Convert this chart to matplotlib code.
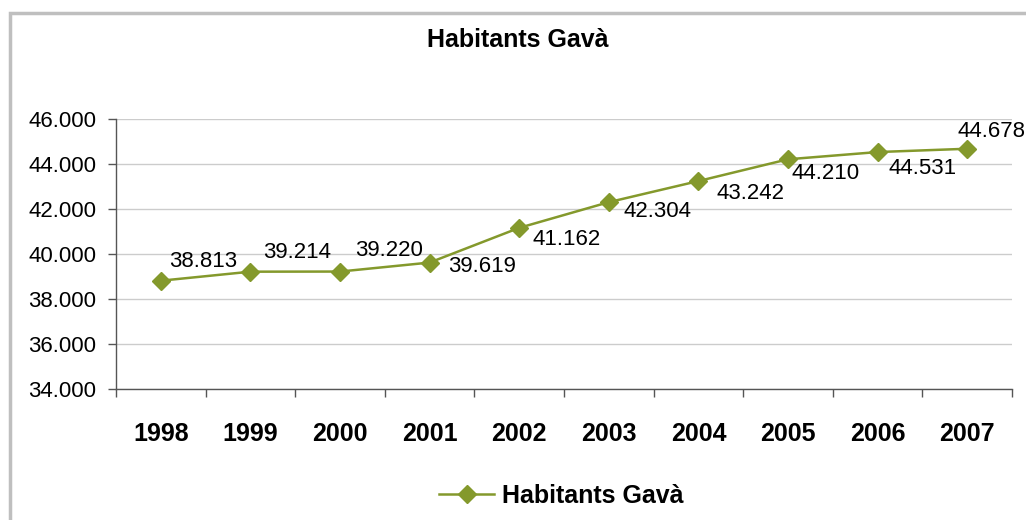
import matplotlib.pyplot as plt
import matplotlib.patches as patches

years = ['1998', '1999', '2000', '2001', '2002', '2003', '2004', '2005', '2006', '2007']
habitants = [38813, 39214, 39220, 39619, 41162, 42304, 43242, 44210, 44531, 44678]
labels = ['38.813', '39.214', '39.220', '39.619', '41.162', '42.304', '43.242', '44.210', '44.531', '44.678']
y_ticks = [34000, 36000, 38000, 40000, 42000, 44000, 46000]
y_ticklabels = ['34.000', '36.000', '38.000', '40.000', '42.000', '44.000', '46.000']
# where each data label sits relative to its point (pixels)
label_offsets = [(42, 19), (47, 19), (49, 21), (52, -4), (47, -12),
                 (49, -9), (52, -12), (38, -14), (45, -16), (24, 17)]

plt.rcParams['font.family'] = ['Liberation Sans', 'DejaVu Sans']

fig = plt.figure(figsize=(10.26, 5.2), dpi=100)
ax = fig.add_axes([116/1026, 1-389/520, (1012-116)/1026, (389-119)/520])

color = '#84992c'
x = list(range(len(years)))
line, = ax.plot(x, habitants, color=color, linewidth=1.8, marker='D', markersize=9,
                label='Habitants Gavà')

for xi, yi, lab, off in zip(x, habitants, labels, label_offsets):
    ax.annotate(lab, (xi, yi), xytext=off, textcoords='offset pixels',
                ha='center', va='center', fontsize=16, color='black')

ax.set_ylim(34000, 46000)
ax.set_yticks(y_ticks)
ax.set_yticklabels(y_ticklabels, fontsize=16)
ax.yaxis.grid(True, color='#cccccc', linewidth=1)
ax.set_axisbelow(True)

ax.set_xlim(-0.5, len(years) - 0.5)
ax.set_xticks([i - 0.5 for i in range(len(years) + 1)])
ax.set_xticklabels([])
ax.set_xticks(x, minor=True)
ax.set_xticklabels(years, minor=True, fontsize=18, fontweight='bold')
ax.tick_params(axis='x', which='minor', length=0, pad=24)
ax.tick_params(axis='x', which='major', length=6, width=1, color='#555555', direction='out')
ax.tick_params(axis='y', length=6, width=1, color='#555555', direction='out', pad=8)

for s in ['top', 'right']:
    ax.spines[s].set_visible(False)
for s in ['left', 'bottom']:
    ax.spines[s].set_color('#555555')
    ax.spines[s].set_linewidth(1)

fig.text(518/1026, 1-40/520, 'Habitants Gavà', ha='center', va='center',
         fontsize=18, fontweight='bold')

fig.legend(handles=[line], loc='center', bbox_to_anchor=(561/1026, 1-496/520),
           frameon=False, prop={'size': 18, 'weight': 'bold'}, handlelength=2.2,
           handletextpad=0.3)

fig.patches.append(patches.Rectangle((10/1026, -0.1), 1.1, 1.1 - 13/520,
                                     transform=fig.transFigure, fill=False,
                                     edgecolor='#bfbfbf', linewidth=2.5))

plt.savefig('out.png', dpi=100)
